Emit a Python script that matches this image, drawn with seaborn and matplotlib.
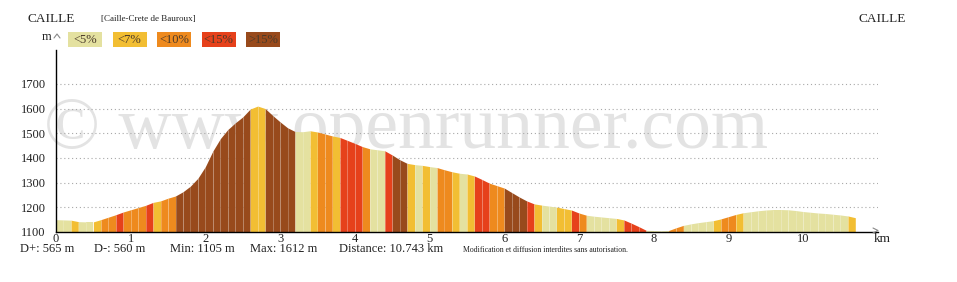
import numpy as np
import pandas as pd
import matplotlib
matplotlib.use("Agg")
import matplotlib.pyplot as plt
from matplotlib.patches import Rectangle
from matplotlib.lines import Line2D
import seaborn as sns

# ---------------- data ----------------
step_km = 0.1
elevations = [
    1150, 1149, 1148, 1142, 1141, 1141, 1150, 1160, 1170, 1181,
    1190, 1199, 1208, 1220, 1226, 1237, 1246, 1263, 1286, 1318,
    1365, 1428, 1478, 1515, 1542, 1566, 1598, 1610, 1600, 1572,
    1546, 1522, 1507, 1506, 1510, 1505, 1497, 1489, 1483, 1471,
    1459, 1446, 1437, 1433, 1429, 1412, 1393, 1378, 1373, 1370,
    1365, 1361, 1352, 1344, 1338, 1335, 1327, 1313, 1298, 1288,
    1278, 1260, 1242, 1226, 1214, 1209, 1205, 1201, 1195, 1189,
    1177, 1168, 1164, 1161, 1158, 1155, 1149, 1136, 1122, 1107,
    1106, 1105, 1106, 1117, 1127, 1133, 1138, 1142, 1146, 1153,
    1162, 1171, 1178, 1182, 1186, 1189, 1191, 1191, 1190, 1187,
    1183, 1180, 1177, 1175, 1172, 1169, 1165, 1158,
]
# grade class of each 0.1 km segment: 0 <5%, 1 <7%, 2 <10%, 3 <15%, 4 >15%
grade_class = [
    0, 0, 1, 0, 0, 1, 2, 2, 3, 2, 2, 2, 3, 1, 2, 2,
    4, 4, 4, 4, 4, 4, 4, 4, 4, 4,
    1, 1,
    4, 4, 4, 4,
    0, 0, 1, 2, 2, 1, 3, 3, 3, 2, 0, 0, 3, 4, 4, 1, 0, 1, 0,
    2, 2, 1, 0, 1, 3, 3, 2, 2, 4, 4, 4, 3, 1, 0, 0, 1, 1, 3, 2,
    0, 0, 0, 0, 1, 3, 3, 3, 0, 0, 0, 2, 2, 0, 0, 0, 0, 1, 2, 2, 1,
    0, 0, 0, 0, 0, 0, 0, 0, 0, 0, 0, 0, 0, 0,
    1,
]
legend_labels = ["<5%", "<7%", "<10%", "<15%", ">15%"]
class_colors = ["#E4E1A0", "#F2BE33", "#EE8A1E", "#E6411B", "#984A1C"]
y_ticks = [1100, 1200, 1300, 1400, 1500, 1600, 1700]
x_ticks = [0, 1, 2, 3, 4, 5, 6, 7, 8, 9, 10]
start_name = "CAILLE"
end_name = "CAILLE"
route_name = "[Caille-Crete de Bauroux]"
stats = ["D+: 565 m", "D-: 560 m", "Min: 1105 m", "Max: 1612 m", "Distance: 10.743 km"]
notice = "Modification et diffusion interdites sans autorisation."
watermark = "\u00a9 www.openrunner.com"

dist = np.round(np.arange(len(elevations)) * step_km, 3)
df = pd.DataFrame({"km": dist, "elev": elevations})

# ---------------- figure ----------------
sns.set_style("white")
plt.rcParams["font.family"] = ["Liberation Serif", "DejaVu Serif"]

W, H = 957, 282
fig = plt.figure(figsize=(W / 100, H / 100), dpi=100)
fx = lambda px: px / W
fy = lambda py: 1 - py / H

x0_px, x11_px = 56, 877.7
y_bot_px, y_top_px = 232, 50
ax = fig.add_axes([fx(x0_px), fy(y_bot_px), fx(x11_px) - fx(x0_px), fy(y_top_px) - fy(y_bot_px)])
ax.set_xlim(0, 11)
ax.set_ylim(1100, 1837)
ax.patch.set_alpha(0)

# watermark behind the profile
ax.text(fx(44), fy(148), watermark, fontsize=53, color="#e3e3e3",
        ha="left", va="baseline", zorder=0.5, transform=fig.transFigure,
        clip_on=False, family=["Liberation Serif"])

# profile line via seaborn (invisible outline, sets up axes)
sns.lineplot(data=df, x="km", y="elev", ax=ax, linewidth=0, color="white")

# dotted gridlines
for yv in y_ticks[1:]:
    ax.axhline(yv, color="#a8a8a8", linestyle=(0, (1, 2.5)), linewidth=0.8, zorder=1)

# coloured segments
for i, c in enumerate(grade_class):
    xs = dist[i:i + 2]
    ys = elevations[i:i + 2]
    ax.fill_between(xs, 1100, ys, color=class_colors[c], linewidth=0, zorder=2)
ax.vlines(dist[1:-1], 1100, elevations[1:-1], color="white", alpha=0.25,
          linewidth=0.5, zorder=3)

# axes styling
for s in ["top", "right"]:
    ax.spines[s].set_visible(False)
for s in ["left", "bottom"]:
    ax.spines[s].set_color("black")
    ax.spines[s].set_linewidth(1.0)
    ax.spines[s].set_zorder(5)
ax.set_yticks(y_ticks)
ax.set_yticklabels([str(v) for v in y_ticks])
ax.set_xticks(x_ticks)
ax.set_xticklabels([str(v) for v in x_ticks])
ax.tick_params(axis="y", length=0, pad=7.5, labelsize=9, colors="#222222")
ax.tick_params(axis="x", length=0, pad=0.5, labelsize=9, colors="#222222")
ax.set_xlabel("")
ax.set_ylabel("")

# axis arrows and unit labels
fig.add_artist(Line2D([fx(54), fx(57), fx(60)], [fy(38), fy(34), fy(38)],
                      color="#888888", linewidth=0.8))
fig.add_artist(Line2D([fx(873), fx(878), fx(873)], [fy(228), fy(230.5), fy(233)],
                      color="#888888", linewidth=0.8))
fig.text(fx(47), fy(37), "m", fontsize=9, ha="center", va="center", color="#222222")
fig.text(fx(882), fy(239), "km", fontsize=9.5, ha="center", va="center", color="#222222")

# titles
fig.text(fx(28), fy(19), start_name, fontsize=9.5, ha="left", va="center", color="#222222")
fig.text(fx(906), fy(19), end_name, fontsize=9.5, ha="right", va="center", color="#222222")
fig.text(fx(101), fy(19), route_name, fontsize=6.5, ha="left", va="center", color="#222222")

# legend boxes
box_x = [68, 112.5, 157, 201.5, 246]
for bx, lab, col in zip(box_x, legend_labels, class_colors):
    fig.add_artist(Rectangle((fx(bx), fy(47)), fx(34), fy(32) - fy(47),
                             facecolor=col, edgecolor="none"))
    fig.text(fx(bx + 17), fy(40), lab, fontsize=9, ha="center", va="center",
             color="#4a3a2a")

# footer statistics
stat_x = [20, 94, 170, 250, 339]
for sx, st in zip(stat_x, stats):
    fig.text(fx(sx), fy(249), st, fontsize=9, ha="left", va="center", color="#222222")
fig.text(fx(463), fy(250), notice, fontsize=5.6, ha="left", va="center", color="#222222")

fig.savefig("out.png", dpi=100, facecolor="white")
